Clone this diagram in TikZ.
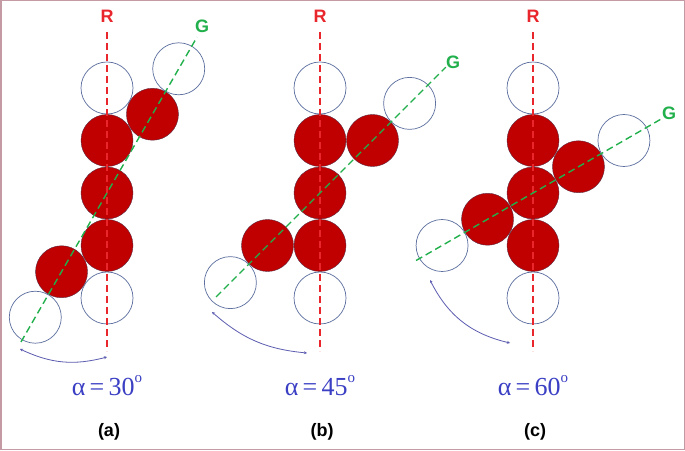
\documentclass[tikz,border=0pt]{standalone}
\usepackage{fontspec}
\setmainfont{Liberation Serif}
\newfontfamily\headfont{Liberation Sans}
\usetikzlibrary{arrows.meta,calc}
\definecolor{borderc}{HTML}{C49AA4}
\definecolor{discred}{HTML}{C00000}
\definecolor{discedge}{HTML}{5A2A40}
\definecolor{ringc}{HTML}{5B6E9E}
\definecolor{rline}{HTML}{E8262C}
\definecolor{gline}{HTML}{21B04B}
\definecolor{alphac}{HTML}{3B3FC4}
\definecolor{arcc}{HTML}{5C5CB0}
\newcommand\degsup{\raisebox{0.5em}{\fontsize{15}{15}\selectfont o}}
\newcommand\molpanel[9]{%
  % #1 name, #2 x, #3 alpha, #4 caption, #5 arc start, #6 arc end, #7 bend, #8 G label pos, #9 G line extents (tbottom/ttop)
  \coordinate (#1m) at (#2,257);
  \pgfmathsetmacro\sdist{105*cos(#3)}
  \pgfmathsetmacro\hdist{105*cos(#3)+52.5}
  \node[ring] (#1rt) at ($(#1m)+(0,105)$) {};
  \node[ring] (#1rb) at ($(#1m)+(0,-105)$) {};
  \node[disc] (#1c0) at (#1m) {};
  \node[disc] (#1c1) at ($(#1m)+(0,52.5)$) {};
  \node[disc] (#1c2) at ($(#1m)+(0,-52.5)$) {};
  \node[disc] (#1g1) at ($(#1m)+(90-#3:\sdist pt)$) {};
  \node[disc] (#1g2) at ($(#1m)+(270-#3:\sdist pt)$) {};
  \node[ring] (#1h1) at ($(#1m)+(90-#3:\hdist pt)$) {};
  \node[ring] (#1h2) at ($(#1m)+(270-#3:\hdist pt)$) {};
  \coordinate (#1Rt) at (#2,418);
  \coordinate (#1Rb) at (#2,99);
  \draw[axisR] (#1Rt) -- (#1Rb);
  \foreach \tb/\tt in {#9}{%
    \coordinate (#1Gb) at ($(#1m)+(270-#3:\tb pt)$);
    \coordinate (#1Gt) at ($(#1m)+(90-#3:\tt pt)$);
  }
  \draw[axisG] (#1Gb) -- (#1Gt);
  \node[lblR] (#1R) at (#2,427) {R};
  \node[lblG] (#1G) at (#8) {G};
  \coordinate (#1as) at (#5);
  \coordinate (#1ae) at (#6);
  \draw[anglearc] (#1as) to[bend right=#7] (#1ae);
  \node[alphalbl] (#1alpha) at (#2,55) {α\,=\,#3\degsup};
  \node[caplbl] (#1cap) at (#2+2,14) {(#4)};
}
\begin{document}
\begin{tikzpicture}[x=1pt,y=1pt,
  disc/.style={circle,minimum size=52pt,inner sep=0pt,fill=discred,draw=discedge,line width=0.4pt},
  ring/.style={circle,minimum size=52pt,inner sep=0pt,draw=ringc,line width=0.7pt},
  axisR/.style={rline,line width=1.4pt,dash pattern=on 7pt off 4pt},
  axisG/.style={gline,line width=1.4pt,dash pattern=on 7pt off 4pt},
  lblR/.style={anchor=base,text=rline,font=\headfont\bfseries\fontsize{18}{20}\selectfont,inner sep=0pt},
  lblG/.style={anchor=base,text=gline,font=\headfont\bfseries\fontsize{18}{20}\selectfont,inner sep=0pt},
  anglearc/.style={arcc,line width=0.8pt,{Stealth[length=3pt,width=3pt]}-{Stealth[length=3pt,width=3pt]}},
  alphalbl/.style={anchor=base,text=alphac,font=\fontsize{26}{28}\selectfont,inner sep=0pt},
  caplbl/.style={anchor=base,text=black,font=\headfont\bfseries\fontsize{18}{20}\selectfont,inner sep=0pt}]
  \fill[white] (0,0) rectangle (685,450);
  \useasboundingbox (0,0) rectangle (685,450);
  \molpanel{a}{107}{30}{a}{20,101}{107,93}{20}{202,417}{172/180}
  \molpanel{b}{320}{45}{b}{212,138}{307,97}{18}{453,381}{147/178}
  \molpanel{c}{533}{60}{c}{430,170}{510,107}{25}{669,330}{135/147}
  \draw[borderc,line width=1.5pt] (0.75,0.75) rectangle (684.25,449.25);
\end{tikzpicture}
\end{document}
